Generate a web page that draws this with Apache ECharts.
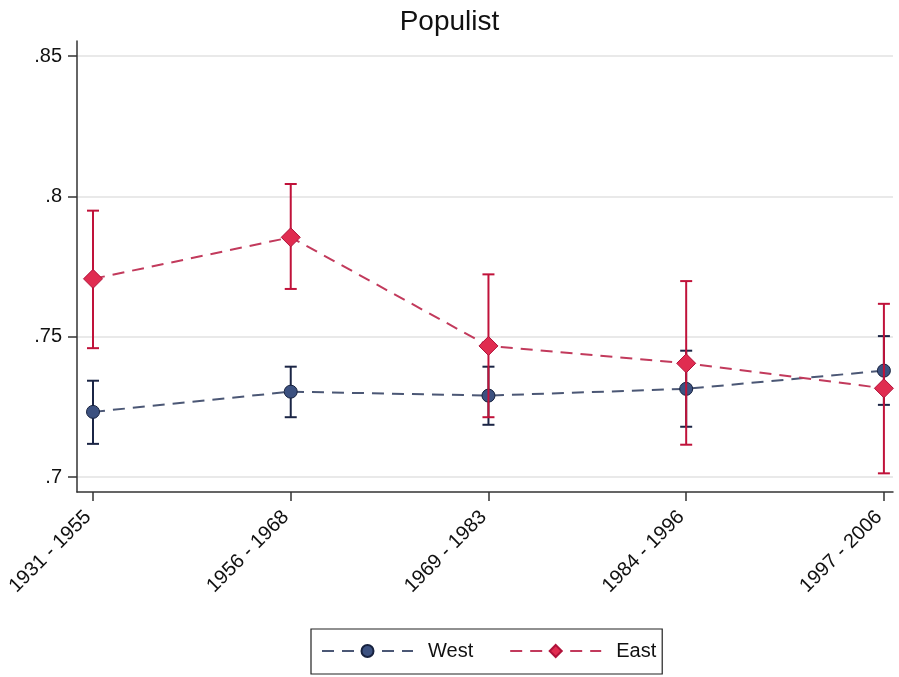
<!DOCTYPE html>
<html>
<head>
<meta charset="utf-8">
<script src="https://cdn.jsdelivr.net/npm/echarts@6/dist/echarts.min.js"></script>
<style>
  html, body { margin: 0; padding: 0; background: #fff; }
  #chart { width: 899px; height: 677px; }
</style>
</head>
<body>
<div id="chart"></div>
<script>
// Birth cohorts along the x axis
const categories = ['1931 - 1955', '1956 - 1968', '1969 - 1983', '1984 - 1996', '1997 - 2006'];

// West: predicted share with 95% confidence bounds
const westMean = [0.7232, 0.7304, 0.7290, 0.7314, 0.7379];
const westLow  = [0.7118, 0.7213, 0.7186, 0.7179, 0.7257];
const westHigh = [0.7343, 0.7393, 0.7393, 0.7450, 0.7502];

// East: predicted share with 95% confidence bounds
const eastMean = [0.7706, 0.7854, 0.7467, 0.7405, 0.7316];
const eastLow  = [0.7459, 0.7670, 0.7213, 0.7115, 0.7013];
const eastHigh = [0.7949, 0.8044, 0.7722, 0.7698, 0.7617];

// Y axis tick values and their labels
const yTicks = [0.7, 0.75, 0.8, 0.85];
const yTickLabels = ['.7', '.75', '.8', '.85'];

const FONT = '"Liberation Sans", Arial, sans-serif';
const WEST_CI = '#1b2545';
const EAST_CI = '#c0123a';

function pointsOf(vals) { return vals.map((v, i) => [i, v]); }
function rangesOf(lo, hi) { return lo.map((v, i) => [i, v, hi[i]]); }

// Vertical range with horizontal caps, placed through the axis scales
function capRenderer(color) {
  return function (params, api) {
    const x = api.value(0);
    const pLo = api.coord([x, api.value(1)]);
    const pHi = api.coord([x, api.value(2)]);
    const half = 6;
    const style = { stroke: color, lineWidth: 2 };
    return {
      type: 'group',
      children: [
        { type: 'line', shape: { x1: pLo[0], y1: pLo[1], x2: pHi[0], y2: pHi[1] }, style },
        { type: 'line', shape: { x1: pLo[0] - half, y1: pLo[1], x2: pLo[0] + half, y2: pLo[1] }, style },
        { type: 'line', shape: { x1: pHi[0] - half, y1: pHi[1], x2: pHi[0] + half, y2: pHi[1] }, style }
      ]
    };
  };
}

const chart = echarts.init(document.getElementById('chart'), null, { renderer: 'canvas' });

chart.setOption({
  animation: false,
  backgroundColor: '#ffffff',
  title: {
    text: 'Populist',
    left: 'center',
    top: 3,
    textStyle: { fontFamily: FONT, fontSize: 28, fontWeight: 'normal', color: '#111' }
  },
  grid: { left: 77, right: 6, top: 41, bottom: 185, containLabel: false },
  xAxis: {
    type: 'value',
    min: -0.081,
    max: 4.046,
    axisLine: { show: true, onZero: false, lineStyle: { color: '#333', width: 1.5 } },
    axisTick: { show: true, length: 9, customValues: [0, 1, 2, 3, 4], lineStyle: { color: '#333', width: 1.5 } },
    axisLabel: {
      customValues: [0, 1, 2, 3, 4],
      rotate: 45,
      margin: 17,
      padding: [0, 7, 0, 0],
      fontFamily: FONT,
      fontSize: 20,
      color: '#111',
      formatter: v => categories[Math.round(v)]
    },
    splitLine: { show: false }
  },
  yAxis: {
    type: 'value',
    min: 0.69465,
    max: 0.85535,
    axisLine: { show: true, onZero: false, lineStyle: { color: '#333', width: 1.5 } },
    axisTick: { show: true, length: 9, customValues: yTicks, lineStyle: { color: '#333', width: 1.5 } },
    axisLabel: {
      customValues: yTicks,
      margin: 15,
      fontFamily: FONT,
      fontSize: 20,
      color: '#111',
      formatter: v => yTickLabels[yTicks.findIndex(t => Math.abs(t - v) < 1e-6)]
    },
    splitLine: { show: true, lineStyle: { color: '#e2e2e2', width: 1.5 } }
  },
  legend: {
    data: ['West', 'East'],
    left: 311,
    bottom: 3,
    orient: 'horizontal',
    itemWidth: 91,
    itemHeight: 15,
    itemGap: 36,
    padding: [12, 6, 13, 10],
    borderColor: '#222',
    borderWidth: 1.2,
    textStyle: { fontFamily: FONT, fontSize: 20, color: '#111', padding: [0, 0, 0, 10] }
  },
  series: [
    {
      name: 'West CI',
      type: 'custom',
      renderItem: capRenderer(WEST_CI),
      data: rangesOf(westLow, westHigh),
      encode: { x: 0, y: [1, 2] },
      z: 2
    },
    {
      name: 'West',
      type: 'line',
      data: pointsOf(westMean),
      symbol: 'circle',
      symbolSize: 13,
      lineStyle: { color: '#4b5775', width: 2, type: [12, 8] },
      itemStyle: { color: '#3c5180', borderColor: '#17223f', borderWidth: 1 },
      z: 3
    },
    {
      name: 'East CI',
      type: 'custom',
      renderItem: capRenderer(EAST_CI),
      data: rangesOf(eastLow, eastHigh),
      encode: { x: 0, y: [1, 2] },
      z: 4
    },
    {
      name: 'East',
      type: 'line',
      data: pointsOf(eastMean),
      symbol: 'diamond',
      symbolSize: [19, 19],
      lineStyle: { color: '#c23a5c', width: 2, type: [12, 8] },
      itemStyle: { color: '#e02c50', borderColor: '#b0123a', borderWidth: 1 },
      z: 5
    }
  ]
});
</script>
</body>
</html>
